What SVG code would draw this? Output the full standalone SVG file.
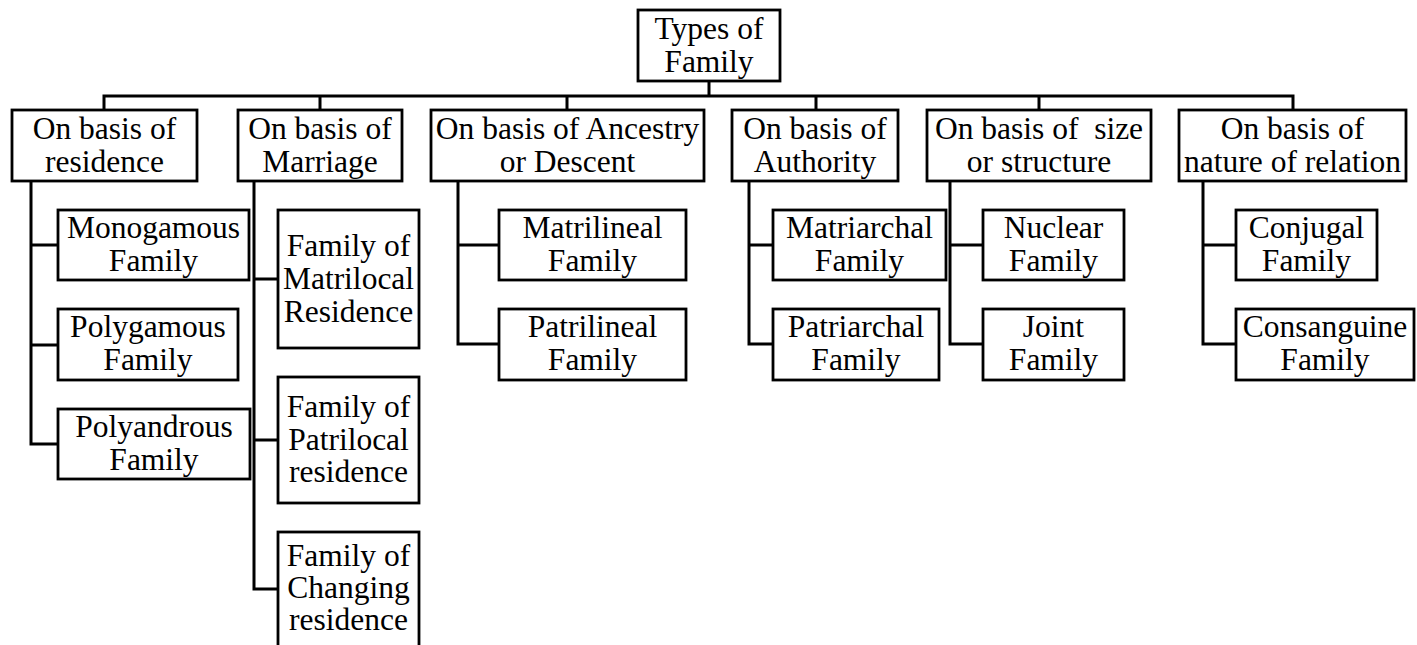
<svg xmlns="http://www.w3.org/2000/svg" width="1417" height="645" viewBox="0 0 1417 645">
<style>
.box{fill:#fff;stroke:#000;stroke-width:2.8}
.t{font-family:"Liberation Serif","Times New Roman",serif;font-size:31.5px;fill:#000;text-anchor:middle}
.c{fill:none;stroke:#000;stroke-width:3;stroke-linejoin:miter;stroke-linecap:square}
</style>
<rect width="1417" height="645" fill="#fff"/>
<g id="connectors" class="c">
<path d="M709 81V96M104 96H1293M104 96V110M320 96V110M567 96V110M816 96V110M1039 96V110M1293 96V110"/>
<path d="M31 181V444H58M31 245H58M31 345H58"/>
<path d="M254 181V589H278M254 279H278M254 440H278"/>
<path d="M458 181V344H499M458 245H499"/>
<path d="M749 181V344H773M749 245H773"/>
<path d="M950 181V344H983M950 245H983"/>
<path d="M1203 181V344H1236M1203 245H1236"/>
</g>
<g id="root"><rect class="box" x="638" y="10" width="142" height="71"/><text class="t" x="709" y="39">Types of</text><text class="t" x="709" y="72">Family</text></g>
<g id="residence"><rect class="box" x="12" y="110" width="185" height="71"/><text class="t" x="104.5" y="139">On basis of</text><text class="t" x="104.5" y="172">residence</text></g>
<g id="marriage"><rect class="box" x="238" y="110" width="164" height="71"/><text class="t" x="320" y="139">On basis of</text><text class="t" x="320" y="172">Marriage</text></g>
<g id="ancestry"><rect class="box" x="431" y="110" width="273" height="71"/><text class="t" x="567.5" y="139">On basis of Ancestry</text><text class="t" x="567.5" y="172">or Descent</text></g>
<g id="authority"><rect class="box" x="732" y="110" width="166" height="71"/><text class="t" x="815" y="139">On basis of</text><text class="t" x="815" y="172">Authority</text></g>
<g id="size"><rect class="box" x="927" y="110" width="224" height="71"/><text class="t" x="1039" y="139" style="white-space:pre" xml:space="preserve">On basis of  size</text><text class="t" x="1039" y="172">or structure</text></g>
<g id="relation"><rect class="box" x="1179" y="110" width="227" height="71"/><text class="t" x="1292.5" y="139">On basis of</text><text class="t" x="1292.5" y="172">nature of relation</text></g>
<g id="monogamous"><rect class="box" x="58" y="210" width="191" height="70"/><text class="t" x="153.5" y="238">Monogamous</text><text class="t" x="153.5" y="271">Family</text></g>
<g id="polygamous"><rect class="box" x="58" y="309" width="180" height="71"/><text class="t" x="148" y="337">Polygamous</text><text class="t" x="148" y="370">Family</text></g>
<g id="polyandrous"><rect class="box" x="58" y="409" width="192" height="70"/><text class="t" x="154" y="437">Polyandrous</text><text class="t" x="154" y="470">Family</text></g>
<g id="matrilocal"><rect class="box" x="278" y="210" width="141" height="138"/><text class="t" x="348.5" y="256">Family of</text><text class="t" x="348.5" y="289">Matrilocal</text><text class="t" x="348.5" y="322">Residence</text></g>
<g id="patrilocal"><rect class="box" x="278" y="377" width="141" height="126"/><text class="t" x="348.5" y="417">Family of</text><text class="t" x="348.5" y="450">Patrilocal</text><text class="t" x="348.5" y="482">residence</text></g>
<g id="changing"><rect class="box" x="278" y="532" width="141" height="120"/><text class="t" x="348.5" y="566">Family of</text><text class="t" x="348.5" y="598">Changing</text><text class="t" x="348.5" y="630">residence</text></g>
<g id="matrilineal"><rect class="box" x="499" y="210" width="187" height="70"/><text class="t" x="592.5" y="238">Matrilineal</text><text class="t" x="592.5" y="271">Family</text></g>
<g id="patrilineal"><rect class="box" x="499" y="309" width="187" height="71"/><text class="t" x="592.5" y="337">Patrilineal</text><text class="t" x="592.5" y="370">Family</text></g>
<g id="matriarchal"><rect class="box" x="773" y="210" width="173" height="70"/><text class="t" x="859.5" y="238">Matriarchal</text><text class="t" x="859.5" y="271">Family</text></g>
<g id="patriarchal"><rect class="box" x="773" y="309" width="166" height="71"/><text class="t" x="856" y="337">Patriarchal</text><text class="t" x="856" y="370">Family</text></g>
<g id="nuclear"><rect class="box" x="983" y="210" width="141" height="70"/><text class="t" x="1053.5" y="238">Nuclear</text><text class="t" x="1053.5" y="271">Family</text></g>
<g id="joint"><rect class="box" x="983" y="309" width="141" height="71"/><text class="t" x="1053.5" y="337">Joint</text><text class="t" x="1053.5" y="370">Family</text></g>
<g id="conjugal"><rect class="box" x="1236" y="210" width="141" height="70"/><text class="t" x="1306.5" y="238">Conjugal</text><text class="t" x="1306.5" y="271">Family</text></g>
<g id="consanguine"><rect class="box" x="1236" y="309" width="178" height="71"/><text class="t" x="1325" y="337">Consanguine</text><text class="t" x="1325" y="370">Family</text></g>
</svg>
